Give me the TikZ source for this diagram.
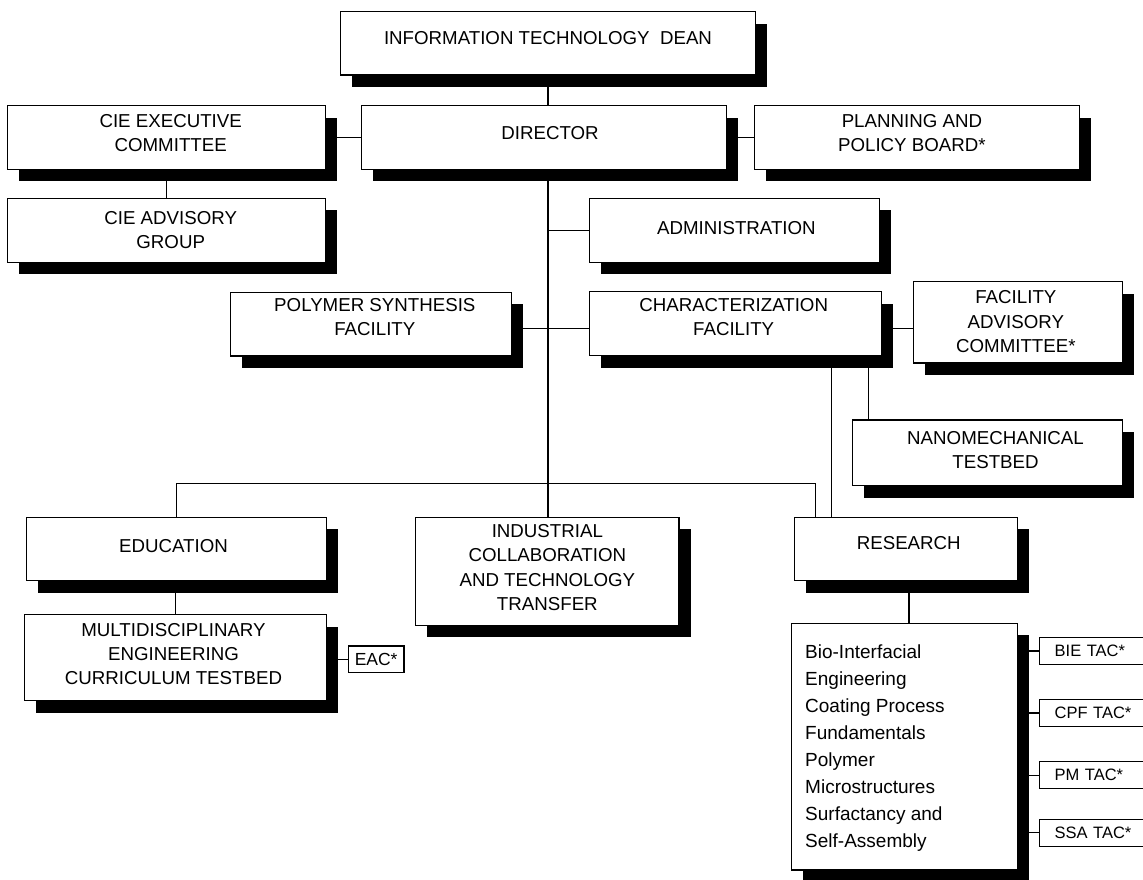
\documentclass[tikz,border=0pt]{standalone}
\usepackage{fontspec}
\setmainfont{Liberation Sans}
\usetikzlibrary{shadows,calc}
\pgfdeclarelayer{background}
\pgfsetlayers{background,main}

\tikzset{
  x=1pt, y=-1pt,
  orgbox/.style 2 args={rectangle, draw=black, line width=1.1pt, fill=white,
    minimum width=#1pt, minimum height=#2pt, inner sep=0pt,
    general shadow={fill=black, shadow xshift=11.5pt, shadow yshift=-12pt}},
  plainbox/.style 2 args={rectangle, draw=black, line width=1.1pt, fill=white,
    minimum width=#1pt, minimum height=#2pt, inner sep=0pt},
  boxtext/.style={align=center, inner sep=0pt, font=\fontsize{18.7}{24.2}\selectfont},
  listtext/.style={align=left, inner sep=0pt, font=\fontsize{19}{26.9}\selectfont},
  tacbox/.style={rectangle, draw=black, line width=1.1pt, fill=white, anchor=west,
    text width=80pt, align=left, inner xsep=15.5pt, inner ysep=0pt,
    minimum height=27pt, font=\fontsize{16.5}{20}\selectfont},
  link/.style={draw=black, line width=1.1pt},
}

\begin{document}
\begin{tikzpicture}
\useasboundingbox (0,0) rectangle (1143,879);
\clip (0,0) rectangle (1143,879);

% top of the chart
\node[orgbox={414.8}{63.3}, label={[boxtext,yshift=5pt]center:INFORMATION TECHNOLOGY\ \ DEAN}] (dean) at (548,43.35) {};
\node[orgbox={364.9}{63.6}, label={[boxtext,xshift=6pt,yshift=4.2pt]center:DIRECTOR}] (director) at (544.05,137.5) {};
\node[orgbox={318}{63.6}, label={[boxtext,xshift=4pt,yshift=4.3pt]center:CIE EXECUTIVE\\COMMITTEE}] (ciexec) at (166.7,137.5) {};
\node[orgbox={318}{64}, label={[boxtext,xshift=4pt]center:CIE ADVISORY\\GROUP}] (cieadv) at (166.7,230.3) {};
\node[orgbox={325.4}{63.6}, label={[boxtext,xshift=-5pt,yshift=4.3pt]center:PLANNING AND\\POLICY BOARD*}] (planning) at (916.9,137.5) {};
\node[orgbox={290.4}{64}, label={[boxtext,xshift=2pt,yshift=2pt]center:ADMINISTRATION}] (admin) at (734.4,230.3) {};

% facilities
\node[orgbox={280.9}{63.7}, label={[boxtext,xshift=4pt,yshift=6.8pt]center:POLYMER SYNTHESIS\\FACILITY}] (polymer) at (370.85,324.15) {};
\node[orgbox={291.9}{63.9}, label={[boxtext,xshift=-2pt,yshift=6.5pt]center:CHARACTERIZATION\\FACILITY}] (char) at (735.65,323.75) {};
\node[orgbox={209.3}{81.1}, label={[boxtext,xshift=-2pt,yshift=0.7pt]center:FACILITY\\ADVISORY\\COMMITTEE*}] (fac) at (1017.85,322.45) {};
\node[orgbox={269.9}{65.5}, label={[boxtext,xshift=8pt,yshift=2.3pt]center:NANOMECHANICAL\\TESTBED}] (nano) at (987.55,452.75) {};

% programmes
\node[orgbox={300.4}{63.4}, label={[boxtext,xshift=-3pt,yshift=3pt]center:EDUCATION}] (edu) at (176.5,549) {};
\node[orgbox={302.4}{86}, label={[boxtext,xshift=-2pt,yshift=3.4pt]center:MULTIDISCIPLINARY\\ENGINEERING\\CURRICULUM TESTBED}] (multi) at (175.5,657.7) {};
\node[plainbox={55.7}{26.3}, font=\fontsize{17.5}{20}\selectfont] (eac) at (376.15,659.15) {EAC*};
\node[orgbox={263.3}{108}, label={[boxtext,yshift=3.7pt]center:INDUSTRIAL\\COLLABORATION\\AND TECHNOLOGY\\TRANSFER}] (indus) at (547.35,571.3) {};
\node[orgbox={222.9}{63.5}, label={[boxtext,xshift=3pt,yshift=6pt]center:RESEARCH}] (research) at (905.75,549.05) {};

% research thrusts and their committees
\node[orgbox={225.6}{246.7}] (list) at (904.5,746.65) {};
\node[listtext, anchor=north west] (topics) at (805,645) {Bio-Interfacial\\Engineering\\Coating Process\\Fundamentals\\Polymer\\Microstructures\\Surfactancy and\\Self-Assembly};
\node[tacbox] (bie) at (1038.6,651) {BIE TAC*};
\node[tacbox] (cpf) at (1038.6,713) {CPF TAC*};
\node[tacbox] (pm)  at (1038.6,775.3) {PM TAC*};
\node[tacbox] (ssa) at (1038.6,832.9) {SSA TAC*};

\begin{pgfonlayer}{background}
  \draw[link] (dean.south) -- (dean.south |- director.north);
  \draw[link] (dean.south |- director.south) coordinate (spine) -- (spine |- indus.north);
  \draw[link] (ciexec.east) -- (director.west);
  \draw[link] (director.east) -- (planning.west);
  \draw[link] (ciexec.south) -- (cieadv.north);
  \draw[link] (admin.west) -- (admin.west -| spine);
  \draw[link] ($(polymer.east)+(0,4)$) coordinate (pc) -- (pc -| char.west);
  \draw[link] ($(char.east)+(0,5)$) coordinate (cf) -- (cf -| fac.west);
  \draw[link] ($(nano.north west)+(16,0)$) coordinate (cn) -- (cn |- char.south);
  \draw[link] ($(research.north west)+(37.4,0)$) coordinate (cr) -- (cr |- char.south);
  \coordinate (bus) at ($(indus.north)+(0,-33.6)$);
  \draw[link] (edu.north) |- (bus) -| ($(research.north west)+(21.7,0)$);
  \draw[link] (multi.north) -- (multi.north |- edu.south);
  \draw[link] (eac.west) -- (eac.west -| multi.east);
  \draw[link] ($(list.north)+(4.5,0)$) coordinate (rl) -- (rl |- research.south);
  \foreach \t in {bie,cpf,pm,ssa}
    \draw[link] (\t.west) -- (\t.west -| list.east);
\end{pgfonlayer}
\end{tikzpicture}
\end{document}
